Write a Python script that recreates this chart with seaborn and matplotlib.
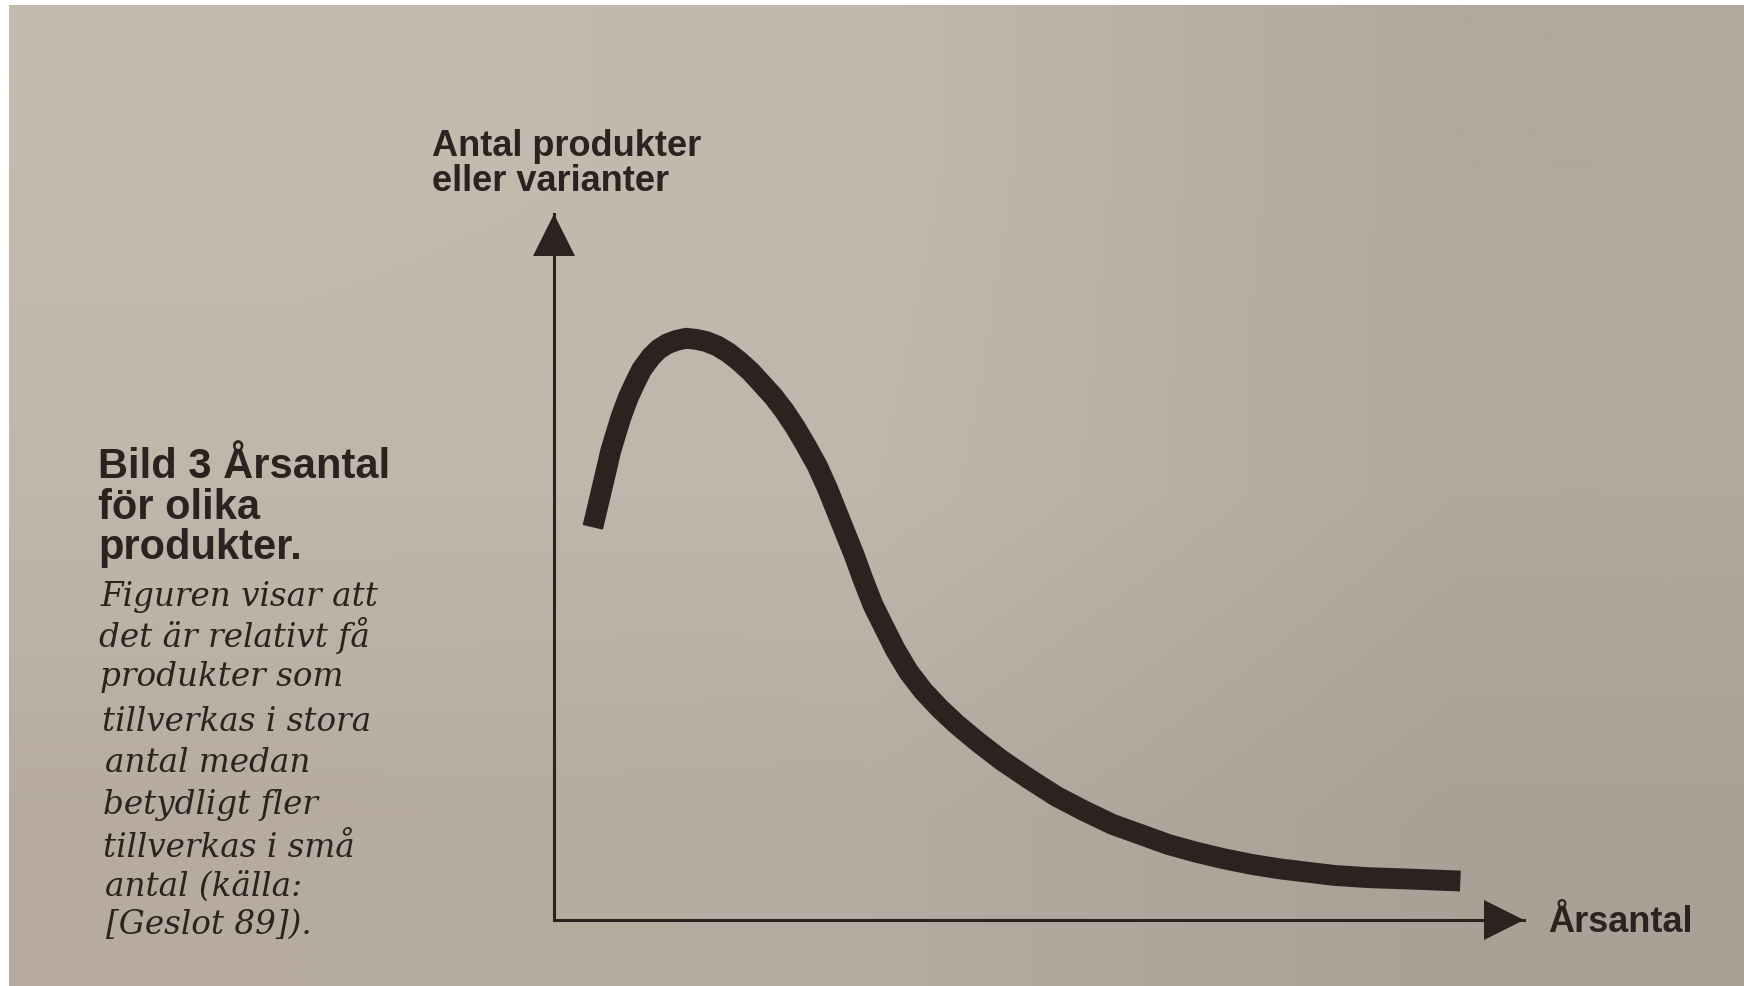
import numpy as np
import matplotlib
matplotlib.use("Agg")
import matplotlib.pyplot as plt
import seaborn as sns

# curve, axis units 0-100 (x = Årsantal, y = antal produkter)
year_pos = [4.00, 4.46, 4.92, 5.38, 5.83, 6.41, 6.98, 7.67, 8.36, 9.05, 9.97, 10.77,
            11.69, 12.60, 13.63, 14.67, 15.70, 16.85, 17.99, 19.14, 20.28, 21.43,
            22.58, 23.73, 24.87, 26.02, 27.16, 28.19, 29.11, 30.03, 30.95, 31.87,
            32.90, 34.04, 35.19, 36.56, 38.06, 39.78, 41.50, 43.56, 46.08, 48.95,
            51.82, 54.68, 57.55, 60.42, 63.28, 66.15, 69.02, 71.88, 74.75, 77.61,
            80.48, 83.92, 87.36, 90.46, 93.44]
product_count = [55.62, 58.30, 60.98, 63.65, 66.33, 69.01, 71.53, 74.05, 76.10, 77.99,
                 79.72, 80.83, 81.62, 82.09, 82.40, 82.24, 81.93, 81.30, 80.35, 79.09,
                 77.67, 75.94, 74.21, 72.16, 69.80, 67.12, 64.28, 61.13, 57.98, 54.83,
                 51.68, 48.21, 44.59, 41.44, 38.29, 35.14, 32.46, 29.94, 27.73, 25.37,
                 22.69, 20.01, 17.49, 15.45, 13.56, 12.14, 10.72, 9.62, 8.68, 7.89,
                 7.26, 6.78, 6.31, 6.00, 5.84, 5.68, 5.52]

y_label_lines = ["Antal produkter", "eller varianter"]
x_label = "Årsantal"
caption_bold = ["Bild 3 Årsantal", "för olika", "produkter."]
caption_italic = ["Figuren visar att", "det är relativt få", "produkter som",
                  "tillverkas i stora", "antal medan", "betydligt fler",
                  "tillverkas i små", "antal (källa:", "[Geslot 89])."]

W, H = 1744, 987
ink = "#2a231f"


def fx(px):
    return px / W


def fy(py):
    return 1 - py / H


sns.set_theme(style="white")
plt.rcParams["font.family"] = ["Liberation Sans", "DejaVu Sans"]

fig = plt.figure(figsize=(W / 100, H / 100), dpi=100, facecolor="white")

# paper background (photo shading)
bg = fig.add_axes([fx(9), 0, 1 - fx(9), 1 - 6 / H])
bg.axis("off")
paper = np.array([[[197, 187, 173], [193, 185, 174], [178, 168, 156]],
                  [[192, 183, 171], [191, 183, 172], [178, 169, 158]],
                  [[182, 171, 158], [181, 172, 161], [170, 160, 149]]]) / 255
bg.imshow(paper, extent=[0, 1, 0, 1], interpolation="bilinear", aspect="auto")
bg.set_xlim(0, 1)
bg.set_ylim(0, 1)

# chart
ax = fig.add_axes([fx(554), fy(921), fx(1524) - fx(554), fy(215) - fy(921)])
ax.patch.set_alpha(0)
sns.lineplot(x=year_pos, y=product_count, ax=ax, sort=False, color=ink,
             linewidth=15, solid_capstyle="butt", solid_joinstyle="round")
ax.set_xlim(0, 100)
ax.set_ylim(0, 100)
ax.set_xticks([])
ax.set_yticks([])
ax.set_xlabel("")
ax.set_ylabel("")
for side in ["top", "right"]:
    ax.spines[side].set_visible(False)
for side in ["left", "bottom"]:
    ax.spines[side].set_color(ink)
    ax.spines[side].set_linewidth(2.2)

# arrow heads
ax.plot(1 - 20 / 970, 0, marker=">", ms=29, mew=0, color=ink,
        transform=ax.transAxes, clip_on=False)
ax.plot(0, 1 - 21 / 706, marker="^", ms=30, mew=0, color=ink,
        transform=ax.transAxes, clip_on=False)

# axis labels
for line, base in zip(y_label_lines, [156, 191]):
    fig.text(fx(432), fy(base), line, fontsize=26, fontweight="bold",
             color=ink, va="baseline")
fig.text(fx(1548), fy(932), x_label, fontsize=26, fontweight="bold",
         color=ink, va="baseline")

# caption
for line, base in zip(caption_bold, [478, 519, 559]):
    fig.text(fx(98), fy(base), line, fontsize=30, fontweight="bold",
             color=ink, va="baseline")
italic_x = [100, 99, 100, 102, 105, 103, 103, 105, 106]
italic_base = [606, 647, 686, 731, 772, 814, 857, 896, 934]
for line, x, base in zip(caption_italic, italic_x, italic_base):
    fig.text(fx(x), fy(base), line, fontsize=23.5, style="italic",
             family=["DejaVu Serif"], color=ink, va="baseline")

fig.savefig("out.png", dpi=100, facecolor=fig.get_facecolor())
